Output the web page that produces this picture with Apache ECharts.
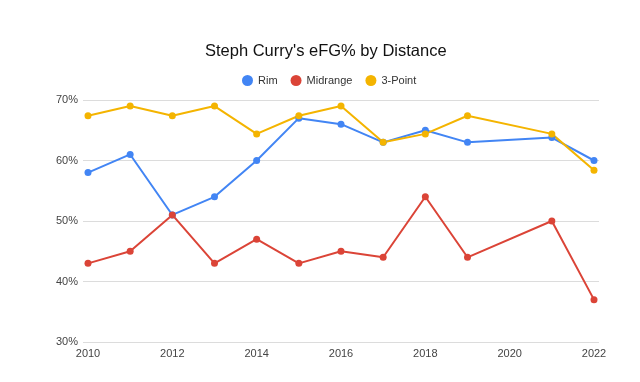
<!DOCTYPE html>
<html>
<head>
<meta charset="utf-8">
<script src="https://cdn.jsdelivr.net/npm/echarts@6/dist/echarts.min.js"></script>
<style>html,body{margin:0;padding:0;background:#fff}#c{width:640px;height:382px}</style>
</head>
<body>
<div id="c"></div>
<script>
var years = [2010, 2011, 2012, 2013, 2014, 2015, 2016, 2017, 2018, 2019, 2021, 2022];
var rim = [58, 61, 51, 54, 60, 67, 66, 63, 65, 63, 63.8, 60];
var midrange = [43, 45, 51, 43, 47, 43, 45, 44, 54, 44, 50, 37];
var threePoint = [67.4, 69, 67.4, 69, 64.4, 67.4, 69, 63, 64.4, 67.4, 64.4, 58.4];
var seriesNames = ['Rim', 'Midrange', '3-Point'];
var colors = ['#4285F4', '#DB4437', '#F4B400'];

function pairs(vals) { return years.map(function (y, i) { return [y, vals[i]]; }); }

var chart = echarts.init(document.getElementById('c'), null, { renderer: 'canvas' });
var font = 'Arial, "Liberation Sans", sans-serif';
var lineSeries = [rim, midrange, threePoint].map(function (vals, i) {
  return {
    name: seriesNames[i], type: 'line', xAxisIndex: 1, yAxisIndex: 1,
    data: pairs(vals), symbol: 'circle', symbolSize: 7,
    lineStyle: { width: 2, color: colors[i] }, itemStyle: { color: colors[i] },
    emphasis: { disabled: true }
  };
});
chart.setOption({
  animation: false,
  backgroundColor: '#fff',
  title: {
    text: "Steph Curry's eFG% by Distance", left: 200, top: 38,
    textStyle: { fontFamily: font, fontSize: 16.5, fontWeight: 'normal', color: '#111' }
  },
  legend: {
    top: 70, left: 237, icon: 'circle', itemWidth: 11, itemHeight: 11, itemGap: 13,
    data: seriesNames,
    textStyle: { fontFamily: font, fontSize: 11, color: '#333' }
  },
  grid: [
    { left: 83, right: 41, top: 100, bottom: 40 },
    { left: 88, right: 46, top: 100, bottom: 40 }
  ],
  xAxis: [
    { gridIndex: 0, type: 'value', min: 0, max: 1, show: false },
    {
      gridIndex: 1, type: 'value', min: 2010, max: 2022, interval: 2,
      axisLine: { show: false }, axisTick: { show: false }, splitLine: { show: false },
      axisLabel: { formatter: function (v) { return String(v); }, fontFamily: font, fontSize: 11, color: '#444', margin: 6 }
    }
  ],
  yAxis: [
    {
      gridIndex: 0, type: 'value', min: 30, max: 70, interval: 10,
      axisLine: { show: false }, axisTick: { show: false },
      axisLabel: { formatter: '{value}%', fontFamily: font, fontSize: 11, color: '#444', margin: 5 },
      splitLine: { lineStyle: { color: '#dcdcdc', width: 1 } }
    },
    { gridIndex: 1, type: 'value', min: 30, max: 70, show: false }
  ],
  series: lineSeries
});
</script>
</body>
</html>
